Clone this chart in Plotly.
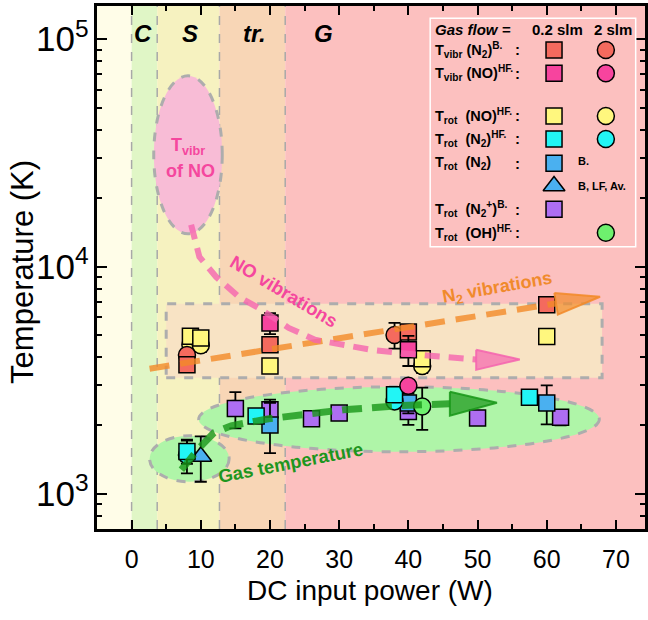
import numpy as np
import plotly.graph_objects as go

# ---------------- data ----------------
# T_vibr (N2)^B.
vibN2_sq_x = [8, 20, 40, 60]
vibN2_sq_y = [3700, 4530, 5150, 6780]
vibN2_sq_e = [250, 0, 280, 300]
vibN2_ci_x = [8, 38]
vibN2_ci_y = [4080, 5000]
vibN2_ci_e = [0, 650]
# T_vibr (NO)^HF.
vibNO_sq_x = [20, 40]
vibNO_sq_y = [5640, 4300]
vibNO_sq_e = [600, 650]
vibNO_ci_x = [40]
vibNO_ci_y = [2990]
vibNO_ci_e = [0]
# T_rot (NO)^HF.
rotNO_sq_x = [8.5, 10, 20, 42, 60]
rotNO_sq_y = [4930, 4850, 3650, 3930, 4920]
rotNO_sq_e = [300, 300, 0, 200, 0]
rotNO_ci_x = [8.5, 10, 42]
rotNO_ci_y = [4520, 4500, 3650]
rotNO_ci_e = [300, 300, 250]
# T_rot (N2)^HF.
rotN2hf_sq_x = [8, 18, 38, 57.5]
rotN2hf_sq_y = [1535, 2200, 2730, 2660]
rotN2hf_sq_e = [180, 0, 0, 0]
rotN2hf_ci_x = [8, 38]
rotN2hf_ci_y = [1480, 2550]
rotN2hf_ci_e = [250, 0]
# T_rot (N2) B.
rotN2b_sq_x = [20, 40, 60]
rotN2b_sq_y = [2010, 2510, 2510]
rotN2b_sq_e = [500, 250, 490]
# T_rot (N2) B, LF, Av.
rotN2av_x = [10]
rotN2av_y = [1460]
rotN2av_e = [330]
# T_rot (N2+)^B.
rotN2p_x = [15, 20, 26, 30, 40, 50, 62]
rotN2p_y = [2370, 2345, 2140, 2265, 2300, 2155, 2170]
rotN2p_e = [430, 250, 150, 100, 290, 0, 170]
# T_rot (OH)^HF.
rotOH_x = [42]
rotOH_y = [2420]
rotOH_e = [510]

# regime boundaries (W) and labels
band_edges = [-5, 0, 3.7, 12.7, 22.2, 74.2]
band_colors = ["#FFFDE8", "#E0F6C6", "#F6F2C0", "#F8D6B6", "#FCC0BF"]
regime_labels = ["C", "S", "tr.", "G"]
regime_label_x = [1.6, 8.4, 17.7, 27.7]

# guide paths (W, K)
no_vib_x = [8.6, 9.8, 12.2, 15.5, 18.8, 22.7, 26.5, 30.3, 34.6, 41.3, 47.0, 49.8]
no_vib_y = [15260, 11030, 9010, 7360, 6450, 5370, 4760, 4520, 4300, 4090, 3930, 3900]
no_head_x = [49.8, 56.1, 49.8, 49.8]
no_head_y = [4300, 3900, 3510, 4300]
n2_vib_x = [2.6, 61.3]
n2_vib_y = [3550, 6880]
n2_head_x = [61.1, 67.7, 61.6, 61.1]
n2_head_y = [7650, 7360, 6140, 7650]
gas_x = [7.2, 9.8, 11.9, 14.4, 19.8, 30.6, 38.4, 46.0]
gas_y = [1275, 1594, 1855, 1992, 2138, 2342, 2439, 2489]
gas_head_x = [46.0, 52.8, 46.0, 46.0]
gas_head_y = [2810, 2514, 2204, 2810]

C_VN2 = "#F46A5E"
C_VNO = "#F7449E"
C_RNO = "#FFF77E"
C_RN2HF = "#22F5F5"
C_RN2B = "#4AB0F0"
C_RN2P = "#AE6EF2"
C_OH = "#6EF06E"

fig = go.Figure()

def add_series(x, y, e, color, symbol, size):
    fig.add_trace(go.Scatter(
        x=x, y=y, mode="markers",
        marker=dict(symbol=symbol, size=size, color=color,
                    line=dict(color="black", width=1.5)),
        error_y=dict(type="data", array=e, visible=True, color="black",
                     thickness=1.8, width=6),
        showlegend=False, hoverinfo="skip"))

SQ = 16
CI = 17
TR = 19
add_series(rotN2p_x, rotN2p_y, rotN2p_e, C_RN2P, "square", SQ)
add_series(rotN2b_sq_x, rotN2b_sq_y, rotN2b_sq_e, C_RN2B, "square", SQ)
add_series(rotN2av_x, rotN2av_y, rotN2av_e, C_RN2B, "triangle-up", TR)
add_series(rotN2hf_ci_x, rotN2hf_ci_y, rotN2hf_ci_e, C_RN2HF, "circle", CI)
add_series(rotN2hf_sq_x, rotN2hf_sq_y, rotN2hf_sq_e, C_RN2HF, "square", SQ)
add_series(rotOH_x, rotOH_y, rotOH_e, C_OH, "circle", CI)
add_series(vibNO_ci_x, vibNO_ci_y, vibNO_ci_e, C_VNO, "circle", CI)
add_series(rotNO_ci_x, rotNO_ci_y, rotNO_ci_e, C_RNO, "circle", CI)
add_series(rotNO_sq_x, rotNO_sq_y, rotNO_sq_e, C_RNO, "square", SQ)
add_series(vibN2_ci_x, vibN2_ci_y, vibN2_ci_e, C_VN2, "circle", CI)
add_series(vibN2_sq_x, vibN2_sq_y, vibN2_sq_e, C_VN2, "square", SQ)
add_series(vibNO_sq_x, vibNO_sq_y, vibNO_sq_e, C_VNO, "square", SQ)

# guide arrows
def add_arrow(px, py, hx, hy, rgb, width, dash):
    fig.add_trace(go.Scatter(x=px, y=py, mode="lines",
                             line=dict(color="rgba(%d,%d,%d,0.8)" % rgb, width=width, dash=dash),
                             showlegend=False, hoverinfo="skip"))
    fig.add_trace(go.Scatter(x=hx, y=hy, mode="lines", fill="toself",
                             fillcolor="rgba(%d,%d,%d,0.7)" % rgb,
                             line=dict(color="rgba(%d,%d,%d,0.85)" % rgb, width=2),
                             showlegend=False, hoverinfo="skip"))

add_arrow(n2_vib_x, n2_vib_y, n2_head_x, n2_head_y, (242, 138, 40), 6, "20px,11px")
add_arrow(no_vib_x, no_vib_y, no_head_x, no_head_y, (245, 100, 175), 6, "15px,9px")
add_arrow(gas_x, gas_y, gas_head_x, gas_head_y, (24, 150, 24), 7, "20px,10px")

# ---------------- legend (drawn on an overlay axis 0..1) ----------------
leg_sq_x = 0.834
leg_ci_x = 0.9286
leg_rows = [0.9159, 0.8713, 0.7897, 0.7457, 0.6992, 0.6558, 0.6113, 0.5665]
leg_items = [  # (row, column, symbol, color)
    (0, leg_sq_x, "square", C_VN2), (0, leg_ci_x, "circle", C_VN2),
    (1, leg_sq_x, "square", C_VNO), (1, leg_ci_x, "circle", C_VNO),
    (2, leg_sq_x, "square", C_RNO), (2, leg_ci_x, "circle", C_RNO),
    (3, leg_sq_x, "square", C_RN2HF), (3, leg_ci_x, "circle", C_RN2HF),
    (4, leg_sq_x, "square", C_RN2B),
    (5, leg_sq_x, "triangle-up", C_RN2B),
    (6, leg_sq_x, "square", C_RN2P),
    (7, leg_ci_x, "circle", C_OH),
]
for r, cx, sym, col in leg_items:
    sz = TR if sym == "triangle-up" else (CI if sym == "circle" else SQ)
    fig.add_trace(go.Scatter(x=[cx], y=[leg_rows[r]], xaxis="x2", yaxis="y2", mode="markers",
                             marker=dict(symbol=sym, size=sz, color=col,
                                         line=dict(color="black", width=1.5)),
                             showlegend=False, hoverinfo="skip"))

leg_labels = [
    (0, "T<sub>vibr</sub> (N<sub>2</sub>)<sup>B.</sup>"),
    (1, "T<sub>vibr</sub> (NO)<sup>HF.</sup>"),
    (2, "T<sub>rot</sub>  (NO)<sup>HF.</sup>"),
    (3, "T<sub>rot</sub>  (N<sub>2</sub>)<sup>HF.</sup>"),
    (4, "T<sub>rot</sub>  (N<sub>2</sub>)"),
    (6, "T<sub>rot</sub>  (N<sub>2</sub><sup>+</sup>)<sup>B.</sup>"),
    (7, "T<sub>rot</sub>  (OH)<sup>HF.</sup>"),
]

FONT = "Liberation Sans, Arial, sans-serif"

def txt(x, y, text, size, color="black", xref="paper", yref="paper", xa="center", ya="middle", angle=0):
    return dict(x=x, y=y, xref=xref, yref=yref, text=text, showarrow=False,
                xanchor=xa, yanchor=ya, textangle=angle,
                font=dict(size=size, color=color, family=FONT))

ann = []
for r, t in leg_labels:
    ann.append(txt(0.6134, leg_rows[r], "<b>" + t + "</b>", 14.5, xa="left"))
    ann.append(txt(0.7675, leg_rows[r], "<b>:</b>", 15))
ann.append(txt(0.6134, 0.9555, "<b><i>Gas flow =</i></b>", 15, xa="left"))
ann.append(txt(0.8403, 0.9555, "<b>0.2 slm</b>", 15))
ann.append(txt(0.942, 0.9555, "<b>2 slm</b>", 15))
ann.append(txt(0.8748, leg_rows[4] + 0.005, "<b>B.</b>", 11, xa="left"))
ann.append(txt(0.8748, leg_rows[5], "<b>B, LF, Av.</b>", 11, xa="left"))

# regime labels
for lab, lx in zip(regime_labels, regime_label_x):
    ann.append(txt(lx, 0.948, "<b><i>" + lab + "</i></b>", 24, xref="x"))

# guide texts
ann.append(txt(0.1652, 0.7305, "<b>T<sub>vibr</sub></b>", 18, "#F5479E"))
ann.append(txt(0.1700, 0.6845, "<b>of NO</b>", 18, "#F5479E"))
ann.append(txt(0.3412, 0.4532, "<b>NO vibrations</b>", 18.5, "#F5479E", angle=31))
ann.append(txt(0.7314, 0.4589, "<b>N<sub>2</sub> vibrations</b>", 18, "#F08A2C", angle=-10))
ann.append(txt(0.3539, 0.128, "<b>Gas temperature</b>", 18.5, "#1E961E", angle=-11))

# axis titles
ann.append(txt(-0.1352, 0.4914, "Temperature (K)", 31, angle=-90))
ann.append(txt(0.499, -0.117, "DC input power (W)", 28))

# ---------------- shapes ----------------
shapes = []
for i in range(len(band_colors)):
    shapes.append(dict(type="rect", xref="x", yref="paper", x0=band_edges[i], x1=band_edges[i + 1],
                       y0=0, y1=1, fillcolor=band_colors[i], line=dict(width=0), layer="below"))
for xe in band_edges[1:-1]:
    shapes.append(dict(type="line", xref="x", yref="paper", x0=xe, x1=xe, y0=0, y1=1,
                       line=dict(color="#A8A8A8", width=1.5, dash="dash"), layer="below"))
GRAY = "#ADADAD"
# N2 vibrations box
shapes.append(dict(type="rect", xref="x", yref="y", x0=5, x1=68, y0=3236, y1=6860,
                   fillcolor="#F8E3C4", line=dict(color=GRAY, width=3, dash="dash"), layer="below"))
# Tvibr NO ellipse
shapes.append(dict(type="circle", xref="x", yref="y", x0=3.2, x1=13.1, y0=13930, y1=69000,
                   fillcolor="#F8BCD6", line=dict(color=GRAY, width=3, dash="dash"), layer="below"))
# gas temperature ellipses
shapes.append(dict(type="circle", xref="x", yref="y", x0=9.7, x1=67.6, y0=1531, y1=2957,
                   fillcolor="#AFF5A8", line=dict(color=GRAY, width=3, dash="dash"), layer="below"))
shapes.append(dict(type="circle", xref="x", yref="y", x0=2.6, x1=14.1, y0=1129, y1=1800,
                   fillcolor="#AFF5A8", line=dict(color=GRAY, width=3, dash="dash"), layer="below"))
# legend frame
shapes.append(dict(type="rect", xref="paper", yref="paper", x0=0.608, x1=0.983, y0=0.5398, y1=0.9765,
                   line=dict(color="white", width=1.5), fillcolor="rgba(0,0,0,0)"))

fig.update_layout(
    width=648, height=620,
    margin=dict(l=97, r=0, t=6, b=91),
    paper_bgcolor="white", plot_bgcolor="white",
    font=dict(family=FONT, color="black"),
    showlegend=False,
    shapes=shapes, annotations=ann,
    xaxis=dict(range=[-5, 74.2], tickvals=[0, 10, 20, 30, 40, 50, 60, 70],
               ticks="inside", ticklen=9, tickwidth=2, tickcolor="black",
               minor=dict(dtick=5, tick0=0, ticks="inside", ticklen=5, tickwidth=2, tickcolor="black"),
               showline=True, linewidth=2.5, linecolor="black", mirror="allticks",
               showgrid=False, zeroline=False, ticklabelstandoff=6,
               tickfont=dict(size=25, family=FONT)),
    yaxis=dict(type="log", range=[np.log10(700), np.log10(1.4e5)], dtick=1,
               exponentformat="power", ticks="inside", ticklen=10, tickwidth=2, tickcolor="black",
               minor=dict(dtick="D1", ticks="inside", ticklen=5, tickwidth=2, tickcolor="black"),
               showline=True, linewidth=2.5, linecolor="black", mirror="allticks",
               showgrid=False, zeroline=False, tickfont=dict(size=28, family=FONT)),
    xaxis2=dict(range=[0, 1], overlaying="x", visible=False, fixedrange=True),
    yaxis2=dict(range=[0, 1], overlaying="y", visible=False, fixedrange=True),
)

fig.write_html("out.html")
